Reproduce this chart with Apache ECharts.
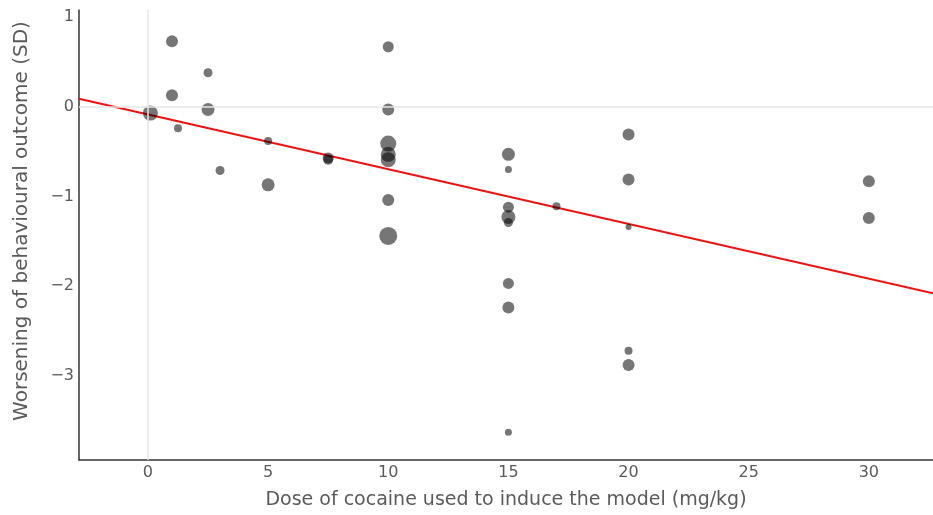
<!DOCTYPE html>
<html>
<head>
<meta charset="utf-8">
<script src="https://cdn.jsdelivr.net/npm/echarts@6/dist/echarts.min.js"></script>
<style>
html,body{margin:0;padding:0;background:#fff;}
#chart{width:933px;height:515px;}
</style>
</head>
<body>
<div id="chart"></div>
<script>
// Dose (mg/kg) of each study
const doses = [0.1, 1, 1, 1.25, 2.5, 2.5, 3, 5, 5, 7.5, 7.5,
  10, 10, 10, 10, 10, 10, 10,
  15, 15, 15, 15, 15, 15, 15, 15,
  17, 20, 20, 20, 20, 20, 30, 30];
// Effect size (SD)
const effects = [-0.07, 0.73, 0.13, -0.24, 0.38, -0.03, -0.71, -0.38, -0.87, -0.57, -0.59,
  0.67, -0.03, -0.41, -0.53, -0.59, -1.04, -1.44,
  -0.53, -0.70, -1.12, -1.23, -1.29, -1.97, -2.24, -3.63,
  -1.11, -0.31, -0.81, -1.34, -2.72, -2.88, -0.83, -1.24];
// Study weight (bubble size)
const weights = [15, 12, 12, 8, 9, 13, 9, 8, 13, 11, 10,
  11, 12, 16, 15, 15, 12, 18,
  13, 7, 11, 14, 9, 11, 12, 7,
  8, 12, 12, 6, 8, 12, 12, 12];
// Meta-regression line
const fitIntercept = -0.086;
const fitSlope = -0.061;
const xRange = [-2.87, 32.67];
const yRange = [-3.94, 1.08];
const xTicks = [0, 5, 10, 15, 20, 25, 30];
const yTicks = [-3, -2, -1, 0, 1];
const xTitle = 'Dose of cocaine used to induce the model (mg/kg)';
const yTitle = 'Worsening of behavioural outcome (SD)';

const points = doses.map((d, i) => [d, effects[i], weights[i]]);
const fitLine = xRange.map(x => [x, fitIntercept + fitSlope * x]);

const chart = echarts.init(document.getElementById('chart'));
const font = 'DejaVu Sans';
chart.setOption({
  animation: false,
  backgroundColor: '#fff',
  grid: {left: 79, right: 0, top: 10, bottom: 53},
  xAxis: {
    type: 'value', min: xRange[0], max: xRange[1],
    axisLine: {show: true, onZero: false, lineStyle: {color: '#333', width: 1.5}},
    axisTick: {show: false},
    splitLine: {show: false},
    axisLabel: {customValues: xTicks, color: '#5a5a5a', fontSize: 16, fontFamily: font, margin: 5},
    name: xTitle, nameLocation: 'middle', nameGap: 31,
    nameTextStyle: {color: '#5a5a5a', fontSize: 19, fontFamily: font}
  },
  yAxis: {
    type: 'value', min: yRange[0], max: yRange[1],
    axisLine: {show: true, onZero: false, lineStyle: {color: '#333', width: 1.5}},
    axisTick: {show: false},
    splitLine: {show: false},
    axisLabel: {customValues: yTicks, color: '#5a5a5a', fontSize: 16, fontFamily: font, margin: 5,
      formatter: v => (v < 0 ? '\u2212' + Math.abs(v) : String(v))},
    name: yTitle, nameLocation: 'middle', nameGap: 47, nameRotate: 90,
    nameTextStyle: {color: '#5a5a5a', fontSize: 20, fontFamily: font, padding: [0, 0, 0, 28]}
  },
  series: [
    {
      type: 'line', data: [], silent: true,
      markLine: {
        silent: true, symbol: 'none', label: {show: false},
        lineStyle: {color: '#e6e6e6', width: 1.5, type: 'solid'},
        data: [{xAxis: 0}, {yAxis: 0}]
      }
    },
    {
      type: 'line', data: fitLine, showSymbol: false, silent: true,
      lineStyle: {color: '#ee1111', width: 2}, z: 3
    },
    {
      type: 'scatter', data: points,
      symbolSize: d => d[2],
      itemStyle: {color: 'rgba(0,0,0,0.67)'}, z: 4
    }
  ]
});
</script>
</body>
</html>
